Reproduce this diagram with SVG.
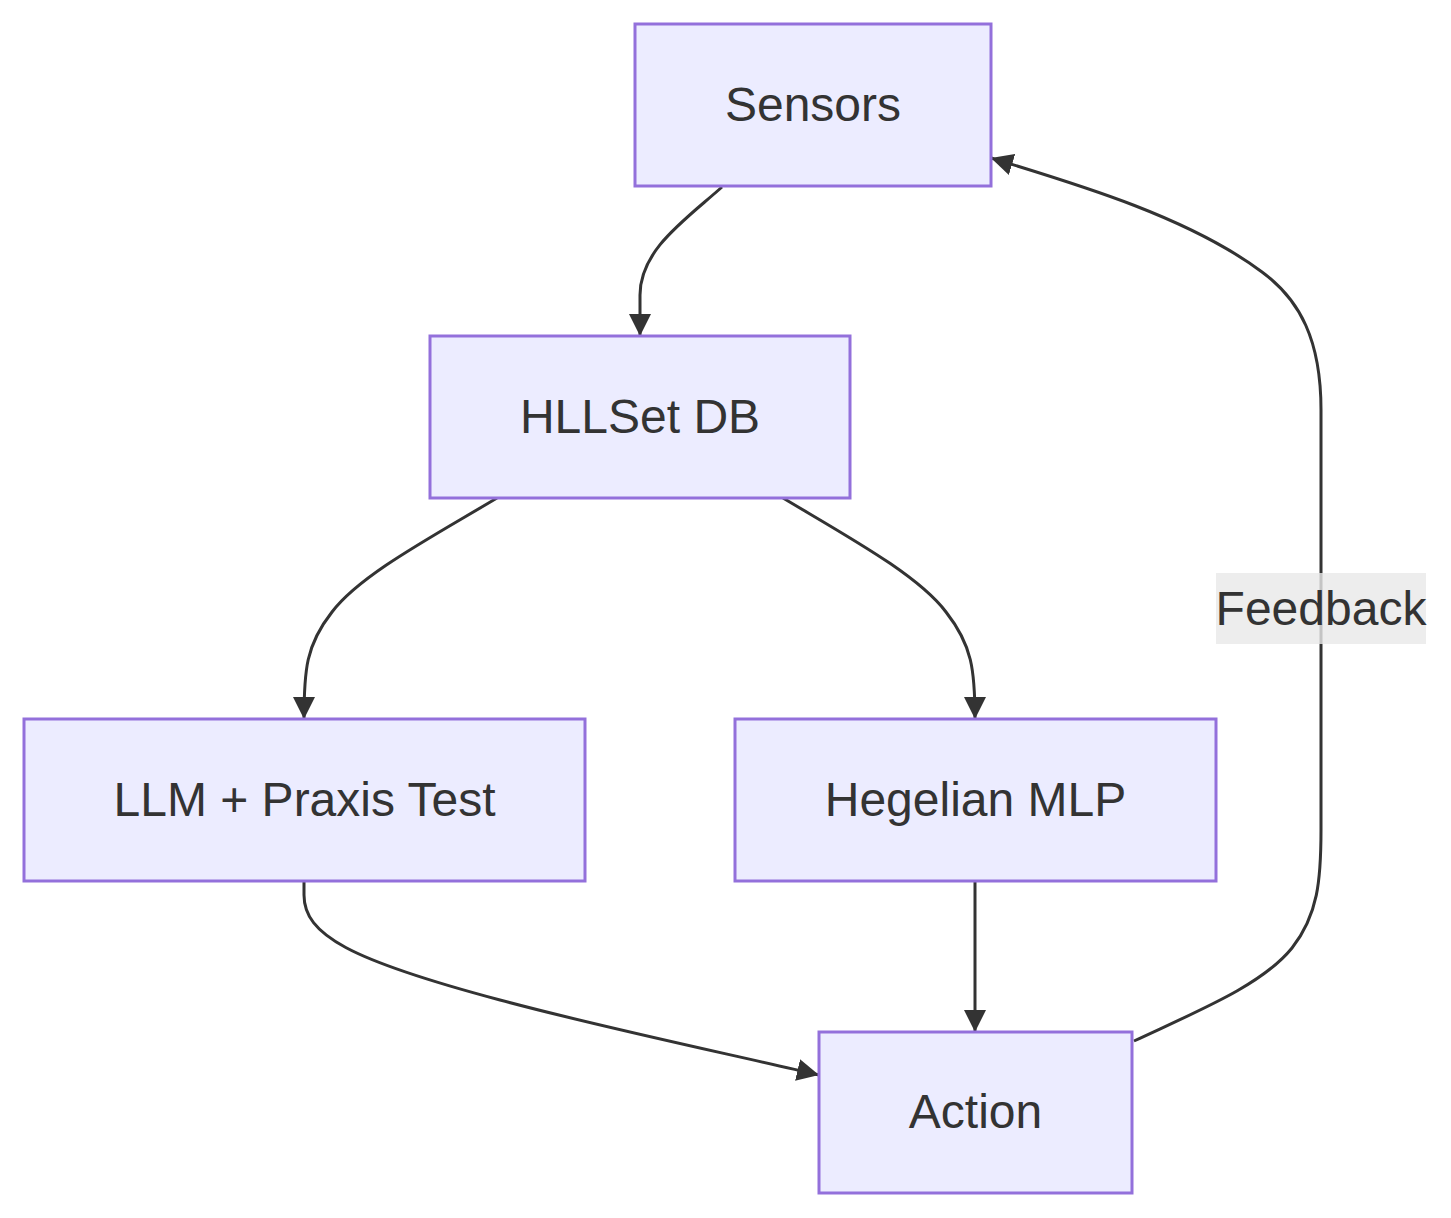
<svg xmlns="http://www.w3.org/2000/svg" width="1451" height="1218" viewBox="0 0 1451 1218">
<style>
.node rect{fill:#ECECFF;stroke:#9370DB;stroke-width:3}
.node text{font-family:"Liberation Sans",Arial,sans-serif;font-size:48px;fill:#333;text-anchor:middle}
.edge{fill:none;stroke:#333;stroke-width:3}
.lbl text{font-family:"Liberation Sans",Arial,sans-serif;font-size:48px;fill:#333;text-anchor:middle}
</style>
<defs>
<marker id="arr" viewBox="0 0 10 10" refX="10" refY="5" markerUnits="userSpaceOnUse" markerWidth="22" markerHeight="24" orient="auto">
<path d="M0,0 L10,5 L0,10 z" fill="#333"/>
</marker>
</defs>
<rect width="1451" height="1218" fill="#fff"/>
<g id="connectors">
<path class="edge" d="M722,187 C685,220 640,250 640,295 L640,336" marker-end="url(#arr)"/>
<path class="edge" d="M497,498 C430,538 360,575 332,612 C306,645 304,670 304,719" marker-end="url(#arr)"/>
<path class="edge" d="M783,498 C850,538 918,575 946,612 C972,645 975,670 975,719" marker-end="url(#arr)"/>
<path class="edge" d="M304,881 L304,895 C304,935 350,960 500,1000 C600,1027 720,1052 819,1075" marker-end="url(#arr)"/>
<path class="edge" d="M975,881 L975,1032" marker-end="url(#arr)"/>
<path class="edge" d="M1134,1041 C1200,1010 1262,985 1292,948 C1318,915 1321,880 1321,830 L1321,410 C1321,340 1300,300 1262,272 C1190,218 1080,185 991,158" marker-end="url(#arr)"/>
</g>
<g id="label-feedback" class="lbl">
<rect x="1216" y="573" width="210" height="71" fill="#e8e8e8" fill-opacity="0.8"/>
<text x="1321" y="625">Feedback</text>
</g>
<g id="node-sensors" class="node">
<rect x="635" y="24" width="356" height="162"/>
<text x="813" y="121">Sensors</text>
</g>
<g id="node-hllset" class="node">
<rect x="430" y="336" width="420" height="162"/>
<text x="640" y="433">HLLSet DB</text>
</g>
<g id="node-llm" class="node">
<rect x="24" y="719" width="561" height="162"/>
<text x="304.5" y="816">LLM + Praxis Test</text>
</g>
<g id="node-hegelian" class="node">
<rect x="735" y="719" width="481" height="162"/>
<text x="975.5" y="816">Hegelian MLP</text>
</g>
<g id="node-action" class="node">
<rect x="819" y="1032" width="313" height="161"/>
<text x="975.5" y="1128">Action</text>
</g>
</svg>
